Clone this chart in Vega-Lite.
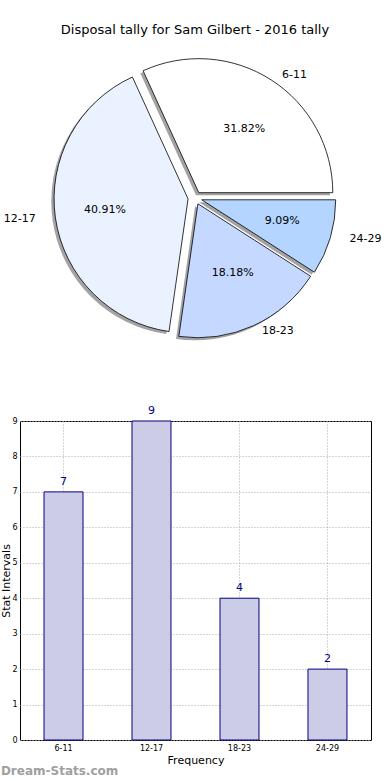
{
  "$schema": "https://vega.github.io/schema/vega-lite/v6.json",
  "padding": {"top": 24, "left": 0, "right": 0, "bottom": 0},
  "background": "white",
  "config": {"font": "DejaVu Sans", "view": {"stroke": null}},
  "datasets": {
    "tally": [
      {"cat": "6-11", "n": 7, "ord": 0},
      {"cat": "12-17", "n": 9, "ord": 1},
      {"cat": "18-23", "n": 4, "ord": 2},
      {"cat": "24-29", "n": 2, "ord": 3}
    ]
  },
  "spacing": 70,
  "bounds": "flush",
  "vconcat": [
    {
      "width": 350,
      "height": 306,
      "title": {"text": "Disposal tally for Sam Gilbert - 2016 tally", "fontSize": 13, "fontWeight": "normal", "color": "black", "offset": 8},
      "view": {"stroke": null},
      "data": {"name": "tally"},
      "transform": [
        {"stack": "n", "groupby": [], "sort": [{"field": "ord", "order": "descending"}], "as": ["s0", "s1"]},
        {"calculate": "(datum.s0 + datum.s1) / 2", "as": "mid"},
        {"calculate": "format(datum.n / 22 * 100, '.2f') + '%'", "as": "pct"}
      ],
      "layer": [
        {
          "mark": {"type": "arc", "fill": "#333333", "opacity": 0.45,
            "xOffset": {"expr": "7 * sin(PI / 2 + 2 * PI * (datum.s0 + datum.s1) / 44) - 2.8"},
            "yOffset": {"expr": "-6.35 * cos(PI / 2 + 2 * PI * (datum.s0 + datum.s1) / 44) + 2.5"}},
          "encoding": {
            "theta": {"field": "s0", "type": "quantitative", "stack": null, "scale": {"domain": [0, 22], "range": [1.5708, 7.854]}},
            "theta2": {"field": "s1"},
            "radius": {"value": 134}
          }
        },
        {
          "mark": {"type": "arc", "stroke": "black", "strokeWidth": 0.8,
            "xOffset": {"expr": "7 * sin(PI / 2 + 2 * PI * (datum.s0 + datum.s1) / 44)"},
            "yOffset": {"expr": "-6.35 * cos(PI / 2 + 2 * PI * (datum.s0 + datum.s1) / 44)"}},
          "encoding": {
            "theta": {"field": "s0", "type": "quantitative", "stack": null, "scale": {"domain": [0, 22], "range": [1.5708, 7.854]}},
            "theta2": {"field": "s1"},
            "radius": {"value": 134},
            "color": {"field": "cat", "type": "nominal", "legend": null,
              "scale": {"domain": ["6-11", "12-17", "18-23", "24-29"], "range": ["#ffffff", "#eaf1ff", "#c5d8ff", "#b3d5ff"]}}
          }
        },
        {
          "mark": {"type": "text", "fontSize": 11, "color": "black", "align": "center", "baseline": "middle",
            "xOffset": {"expr": "91 * sin(PI / 2 + 2 * PI * datum.mid / 22)"},
            "yOffset": {"expr": "-82.6 * cos(PI / 2 + 2 * PI * datum.mid / 22)"}},
          "encoding": {
            "theta": {"field": "mid", "type": "quantitative", "stack": null, "scale": {"domain": [0, 22], "range": [1.5708, 7.854]}},
            "radius": {"value": 0},
            "text": {"field": "pct"}
          }
        },
        {
          "transform": [{"filter": "datum.cat != '12-17'"}],
          "mark": {"type": "text", "fontSize": 11, "color": "black", "align": "left", "baseline": "middle",
            "xOffset": {"expr": "161 * sin(PI / 2 + 2 * PI * datum.mid / 22)"},
            "yOffset": {"expr": "-146 * cos(PI / 2 + 2 * PI * datum.mid / 22)"}},
          "encoding": {
            "theta": {"field": "mid", "type": "quantitative", "stack": null, "scale": {"domain": [0, 22], "range": [1.5708, 7.854]}},
            "radius": {"value": 0},
            "text": {"field": "cat"}
          }
        },
        {
          "transform": [{"filter": "datum.cat == '12-17'"}],
          "mark": {"type": "text", "fontSize": 11, "color": "black", "align": "right", "baseline": "middle",
            "xOffset": {"expr": "161 * sin(PI / 2 + 2 * PI * datum.mid / 22)"},
            "yOffset": {"expr": "-146 * cos(PI / 2 + 2 * PI * datum.mid / 22)"}},
          "encoding": {
            "theta": {"field": "mid", "type": "quantitative", "stack": null, "scale": {"domain": [0, 22], "range": [1.5708, 7.854]}},
            "radius": {"value": 0},
            "text": {"field": "cat"}
          }
        }
      ]
    },
    {
      "width": 351,
      "height": 319,
      "data": {"name": "tally"},
      "view": {"stroke": "black", "strokeWidth": 1},
      "title": {"text": "Dream-Stats.com", "orient": "bottom", "anchor": "start", "frame": "bounds", "color": "#a0a0a0", "fontSize": 12, "fontWeight": "bold", "offset": 1},
      "encoding": {
        "x": {"field": "cat", "type": "nominal", "sort": {"field": "ord"},
          "scale": {"paddingInner": 0.557, "paddingOuter": 0.273},
          "axis": {"title": "Frequency", "titleFontSize": 11, "titleFontWeight": "normal", "titlePadding": 2, "labelAngle": 0, "labelFontSize": 8, "labelColor": "black", "labelPadding": 4,
            "ticks": false, "domain": false, "grid": true, "bandPosition": 0.5, "gridDash": [1, 2], "gridColor": "#aaaaaa", "gridWidth": 1}},
        "y": {"field": "n", "type": "quantitative", "scale": {"domain": [0, 9], "nice": false},
          "axis": {"title": "Stat Intervals", "titleFontSize": 11, "titleFontWeight": "normal", "titlePadding": 0, "values": [0, 1, 2, 3, 4, 5, 6, 7, 8, 9], "labelFontSize": 8, "labelColor": "black", "labelPadding": 3,
            "ticks": false, "domain": false, "grid": true, "gridDash": [1, 2], "gridColor": "#aaaaaa", "gridWidth": 1}}
      },
      "layer": [
        {"mark": {"type": "bar", "fill": "#ccccE6", "stroke": "#000080", "strokeWidth": 1}},
        {"mark": {"type": "text", "dy": -5, "fontSize": 11, "color": "#000080", "baseline": "bottom"}, "encoding": {"text": {"field": "n"}}}
      ]
    }
  ]
}
